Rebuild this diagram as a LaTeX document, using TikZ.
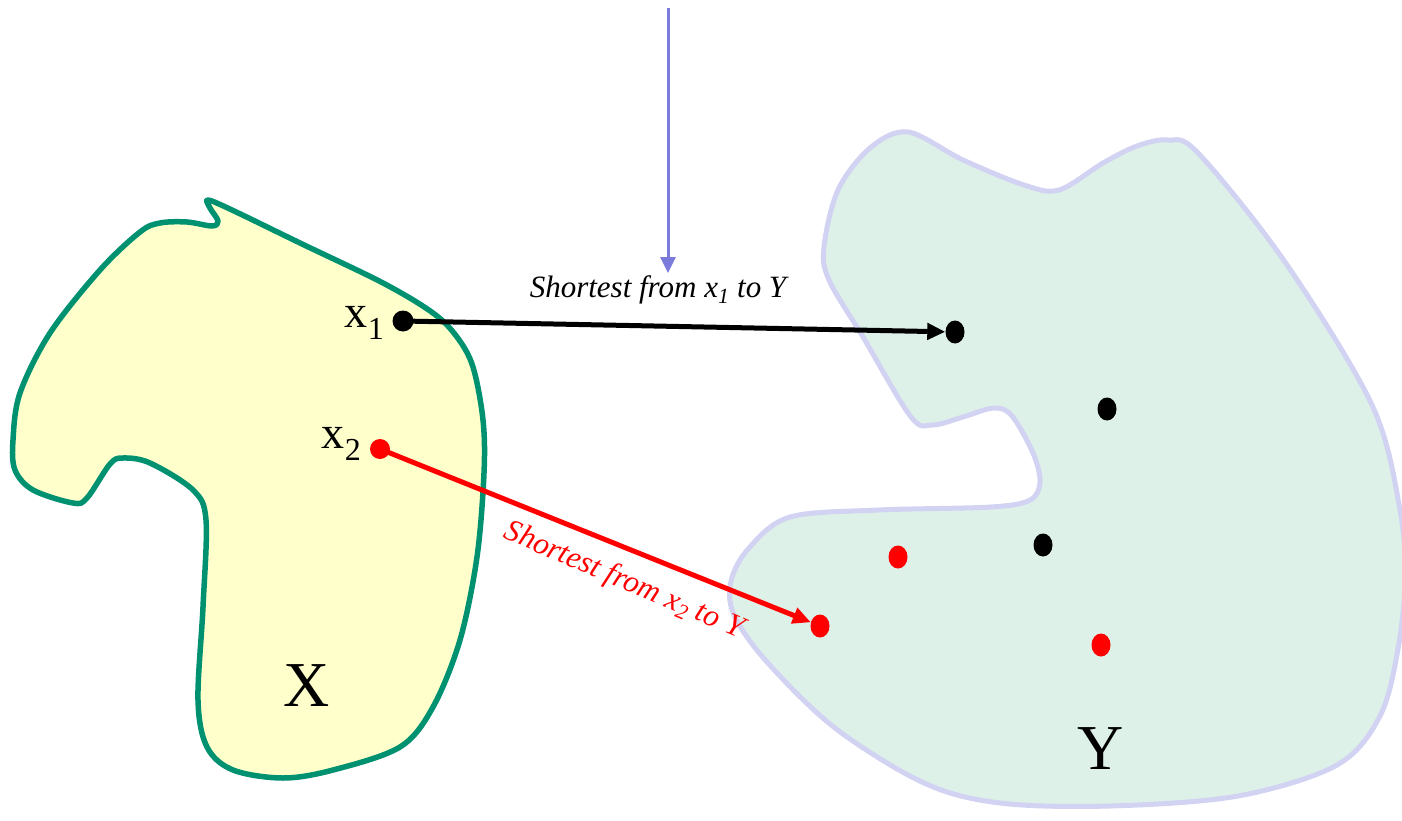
\documentclass[tikz,border=0pt]{standalone}
\usepackage{fontspec}
\setmainfont{Liberation Serif}
\usetikzlibrary{shapes.geometric,arrows.meta}
\definecolor{xfill}{HTML}{FFFFCC}
\definecolor{xline}{HTML}{009171}
\definecolor{yfill}{HTML}{DDF1E8}
\definecolor{yline}{HTML}{D2D2F2}
\definecolor{blueline}{HTML}{7B7BDB}
\definecolor{redc}{HTML}{FF0000}
\newcommand{\lbl}[2]{\fontsize{46}{48}\selectfont #1\raisebox{-0.27em}{\fontsize{32}{32}\selectfont #2}}
\tikzset{
  setx/.style={draw=xline, fill=xfill, line width=5.5pt, line join=round},
  sety/.style={draw=yline, fill=yfill, line width=5pt, line join=round},
  dotblk/.style={ellipse, fill=black, minimum width=19pt, minimum height=23pt, inner sep=0pt},
  dotr/.style={ellipse, fill=redc, minimum width=19pt, minimum height=23pt, inner sep=0pt},
  bigletter/.style={font=\fontsize{64}{66}\selectfont, inner sep=0pt},
  ptlabel/.style={inner sep=0pt, anchor=east},
  shortlbl/.style={font=\fontsize{31}{33}\selectfont\itshape, inner sep=0pt},
  conn/.style={line width=5pt, -{Triangle[length=18pt,width=16pt]}}
}
\begin{document}
\begin{tikzpicture}[x=1pt,y=-1pt]
\useasboundingbox (0,0) rectangle (1402,821);
% set X
\path[setx] plot[smooth cycle, tension=0.55] coordinates {
 (208,200) (232,210) (300,243) (383,283) (433,313) (457,337) (473,367) (483,420)
 (484,473) (477,557) (460,640) (433,707) (400,747) (333,770) (283,778) (233,770)
 (207,747) (198,700) (203,607) (206,520) (193,490) (150,463) (123,458) (110,464)
 (87,498) (73,503) (33,490) (15,470) (13,440) (20,393) (50,333) (100,270)
 (140,232) (160,223) (187,222) (212,226) (218,221) (210,208)};
% set Y
\path[sety] plot[smooth cycle, tension=0.55] coordinates {
 (908,132) (963,160) (1024,185) (1059,190) (1103,163) (1137,146) (1168,140) (1198,153)
 (1285,262) (1372,405) (1400,510) (1405,580) (1398,649) (1380,716) (1337,765) (1238,796)
 (1110,806) (1000,803) (924,783) (835,728) (767,662) (734,615) (731,581) (749,548)
 (790,517) (879,510) (991,507) (1030,500) (1040,482) (1033,453) (1012,416) (994,408)
 (963,417) (933,425) (911,417) (863,337) (829,280) (824,247) (838,190) (870,148)};
% points
\node[circle, fill=black, minimum size=21pt, inner sep=0pt] (x1) at (403,321) {};
\node[circle, fill=redc, minimum size=20pt, inner sep=0pt] (x2) at (380,449) {};
\node[dotblk] (y1) at (955,332) {};
\node[dotblk] (y2) at (1107,409) {};
\node[dotblk] (y3) at (1043,545) {};
\node[dotr] (r1) at (898,557) {};
\node[dotr] (r2) at (820,626) {};
\node[dotr] (r3) at (1101,645) {};
% labels
\node[ptlabel] (lx1) at (384,323) {\lbl{x}{1}};
\node[ptlabel] (lx2) at (361,444) {\lbl{x}{2}};
\node[bigletter] (lX) at (307,686) {X};
\node[bigletter] (lY) at (1101,749) {Y};
% connectors
\draw[conn, black] (x1.center) -- (y1);
\draw[conn, redc] (x2.center) -- (r2);
\node[shortlbl] (s1) at (658,290) {Shortest from x\textsubscript{1} to Y};
\node[shortlbl, text=redc, rotate=-23] (s2) at (624,581) {Shortest from x\textsubscript{2} to Y};
% blue arrow
\coordinate (bt) at (668,8);
\coordinate (bb) at (668,273);
\draw[blueline, line width=3pt, -{Triangle[length=16pt,width=15pt]}] (bt) -- (bb);
\end{tikzpicture}
\end{document}
